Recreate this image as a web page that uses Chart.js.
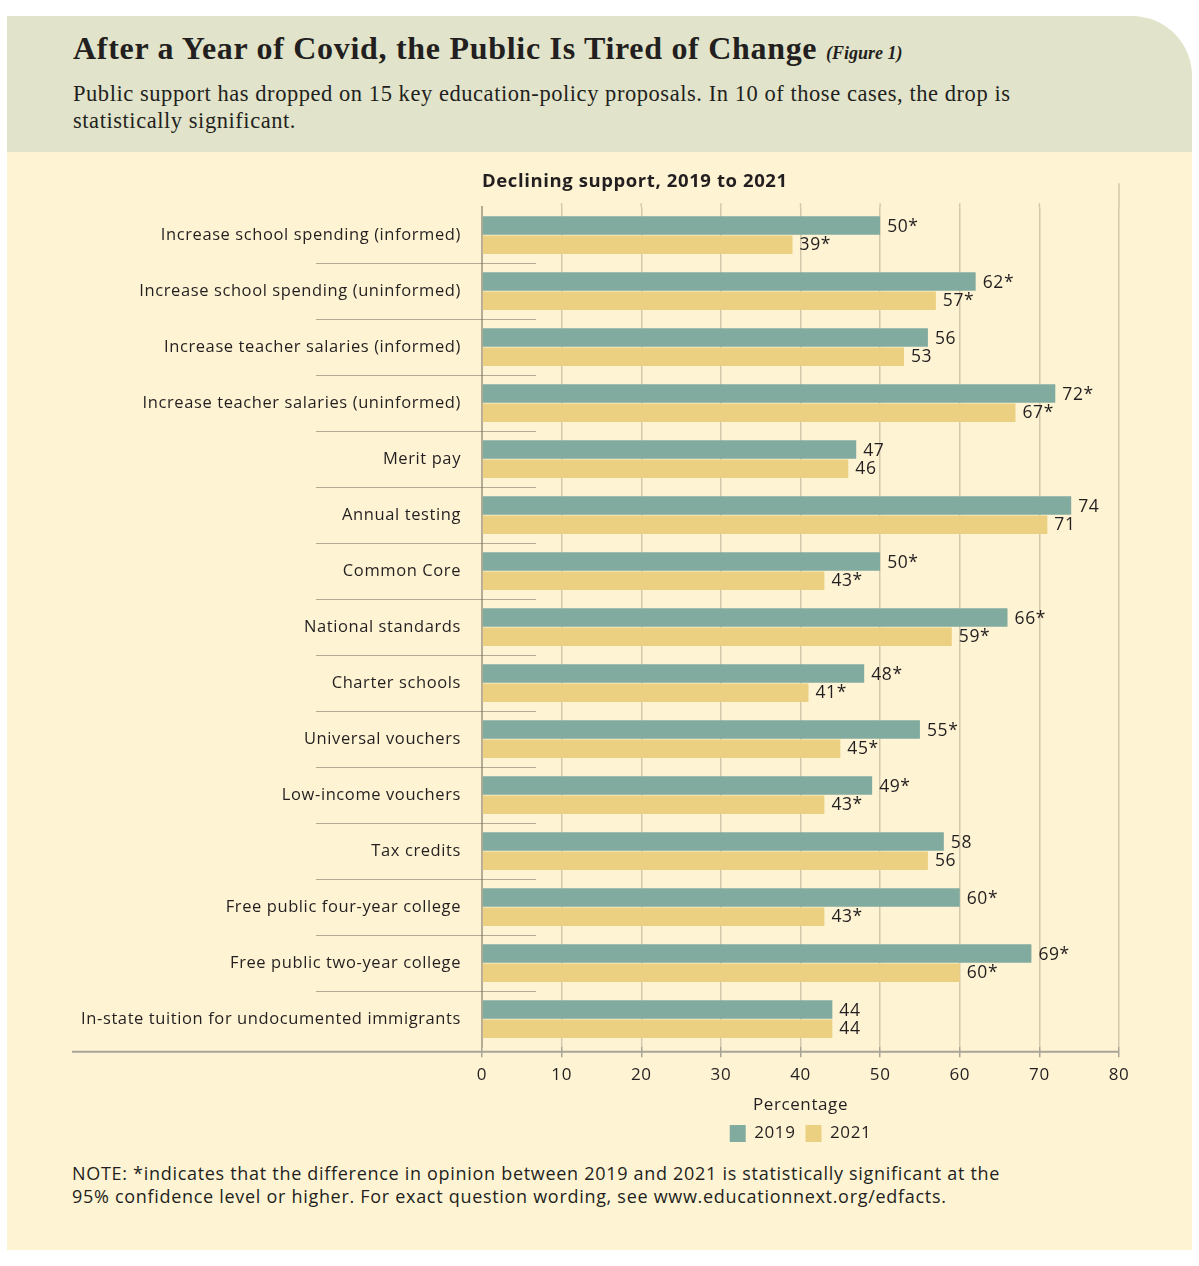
<!DOCTYPE html>
<html>
<head>
<meta charset="utf-8">
<script src="https://cdn.jsdelivr.net/npm/chart.js@4"></script>
<style>
  body { margin:0; background:#fff; width:1199px; height:1266px; position:relative; overflow:hidden; font-family:"Open Sans", sans-serif; color:#231f20; }
  #head { position:absolute; left:7px; top:16px; width:1185px; height:136px; background:#e1e4ca; border-top-right-radius:60px; }
  #body { position:absolute; left:7px; top:152px; width:1185px; height:1098px; background:#fef4d4; }
  #title { position:absolute; left:73px; top:30px; font-family:"Liberation Serif", serif; font-weight:bold; font-size:32px; letter-spacing:0.7px; white-space:nowrap; }
  #title i { font-size:18px; font-weight:bold; letter-spacing:0; }
  #sub { position:absolute; left:73px; top:80px; width:1000px; font-family:"Liberation Serif", serif; font-size:22.5px; letter-spacing:0.55px; line-height:27px; }
  #note { position:absolute; left:72px; top:1162px; font-size:18px; letter-spacing:0.7px; line-height:23px; white-space:nowrap; }
  canvas { position:absolute; left:0; top:160px; }
</style>
</head>
<body>
<div id="head"></div>
<div id="body"></div>
<div id="title">After a Year of Covid, the Public Is Tired of Change <i>(Figure 1)</i></div>
<div id="sub">Public support has dropped on 15 key education-policy proposals. In 10 of those cases, the drop is<br>statistically significant.</div>
<canvas id="c" width="1199" height="1000"></canvas>
<div id="note">NOTE: *indicates that the difference in opinion between 2019 and 2021 is statistically significant at the<br>95% confidence level or higher. For exact question wording, see www.educationnext.org/edfacts.</div>
<script>
//-------------------Data-------------------
const categories = [
  'Increase school spending (informed)',
  'Increase school spending (uninformed)',
  'Increase teacher salaries (informed)',
  'Increase teacher salaries (uninformed)',
  'Merit pay',
  'Annual testing',
  'Common Core',
  'National standards',
  'Charter schools',
  'Universal vouchers',
  'Low-income vouchers',
  'Tax credits',
  'Free public four-year college',
  'Free public two-year college',
  'In-state tuition for undocumented immigrants'
];
const values2019 = [50, 62, 56, 72, 47, 74, 50, 66, 48, 55, 49, 58, 60, 69, 44];
const values2021 = [39, 57, 53, 67, 46, 71, 43, 59, 41, 45, 43, 56, 43, 60, 44];
// true where the 2019-2021 change is significant (shown with *)
const significant = [true, true, false, true, false, false, true, true, true, true, true, false, true, true, false];
const xTicks = [0, 10, 20, 30, 40, 50, 60, 70, 80];

const TEXT = '#231f20';
const FONT = '"Open Sans", sans-serif';
const SPACING = '0.6px';

//-------------------Plugins-------------------
// wider letter spacing on the canvas (set again after any canvas resize)
const spacing = {
  id: 'spacing',
  beforeUpdate(chart) { chart.ctx.letterSpacing = SPACING; },
  beforeDraw(chart) { chart.ctx.letterSpacing = SPACING; }
};

// value labels at the end of each bar
const valueLabels = {
  id: 'valueLabels',
  afterDatasetsDraw(chart) {
    const ctx = chart.ctx;
    ctx.save();
    ctx.font = '17.5px ' + FONT;
    ctx.fillStyle = TEXT;
    ctx.textBaseline = 'middle';
    ctx.textAlign = 'left';
    chart.data.datasets.forEach((ds, di) => {
      chart.getDatasetMeta(di).data.forEach((bar, i) => {
        const txt = ds.data[i] + (significant[i] ? '*' : '');
        const dy = di === 0 ? 1.5 : 0;
        ctx.fillText(txt, bar.x + 7, bar.y + dy);
      });
    });
    ctx.restore();
  }
};

// short separators between categories, gridline tops, long bottom axis line
const decorations = {
  id: 'decorations',
  beforeDatasetsDraw(chart) {
    const ctx = chart.ctx;
    const x = chart.scales.x;
    const top = chart.chartArea.top;
    ctx.save();
    ctx.strokeStyle = '#d3c8ab';
    ctx.lineWidth = 1.5;
    xTicks.forEach(v => {
      if (v === 0) return;
      const xx = x.getPixelForValue(v);
      ctx.beginPath();
      ctx.moveTo(xx, v === 80 ? top - 24 : top - 4);
      ctx.lineTo(xx, top);
      ctx.stroke();
    });
    ctx.restore();
  },
  afterDraw(chart) {
    const ctx = chart.ctx;
    const y = chart.scales.y;
    const x = chart.scales.x;
    ctx.save();
    ctx.strokeStyle = 'rgba(120,112,95,0.55)';
    ctx.lineWidth = 1;
    for (let i = 1; i < categories.length; i++) {
      const yy = Math.round((y.getPixelForValue(i - 1) + y.getPixelForValue(i)) / 2) + 0.5;
      ctx.beginPath();
      ctx.moveTo(316, yy);
      ctx.lineTo(536, yy);
      ctx.stroke();
    }
    ctx.strokeStyle = '#aaa397';
    ctx.lineWidth = 2;
    const by = chart.chartArea.bottom + 4.5;
    ctx.beginPath();
    ctx.moveTo(72, by);
    ctx.lineTo(x.getPixelForValue(80), by);
    ctx.stroke();
    ctx.restore();
  }
};

//-------------------Chart-------------------
const ctx = document.getElementById('c').getContext('2d');
const chart = new Chart(ctx, {
  type: 'bar',
  data: {
    labels: categories,
    datasets: [
      { label: '2019', data: values2019, backgroundColor: '#82aba0', categoryPercentage: 0.6875, barPercentage: 0.96 },
      { label: '2021', data: values2021, backgroundColor: '#ebd081', categoryPercentage: 0.6875, barPercentage: 0.96 }
    ]
  },
  options: {
    indexAxis: 'y',
    responsive: false,
    animation: false,
    devicePixelRatio: 1,
    layout: { padding: { left: 0, right: 80, top: 11, bottom: 8 } },
    scales: {
      x: {
        min: 0, max: 80,
        afterBuildTicks: (scale) => { scale.ticks = xTicks.map(v => ({ value: v })); },
        grid: { color: '#d3c8ab', lineWidth: 1.5, tickColor: '#aaa397', tickLength: 10 },
        border: { display: false },
        ticks: { color: TEXT, font: { family: FONT, size: 17 }, padding: 8 },
        title: { display: true, text: 'Percentage', color: TEXT, font: { family: FONT, size: 17 }, padding: { top: 1, bottom: 0 } }
      },
      y: {
        afterFit: (scale) => { scale.width = 482; },
        grid: { display: false },
        border: { display: true, color: '#b4ab96', width: 2 },
        ticks: { color: TEXT, font: { family: FONT, size: 16.5 }, padding: 13 }
      }
    },
    plugins: {
      title: {
        display: true, text: 'Declining support, 2019 to 2021', align: 'start', fullSize: false,
        color: TEXT, font: { family: FONT, size: 18.5, weight: 'bold' }, padding: { top: 0, bottom: 14 }
      },
      legend: {
        position: 'bottom', fullSize: false,
        labels: { color: TEXT, font: { family: FONT, size: 17 }, boxWidth: 16, boxHeight: 17, padding: 10 }
      },
      tooltip: { enabled: false }
    }
  },
  plugins: [spacing, valueLabels, decorations]
});
</script>
</body>
</html>
